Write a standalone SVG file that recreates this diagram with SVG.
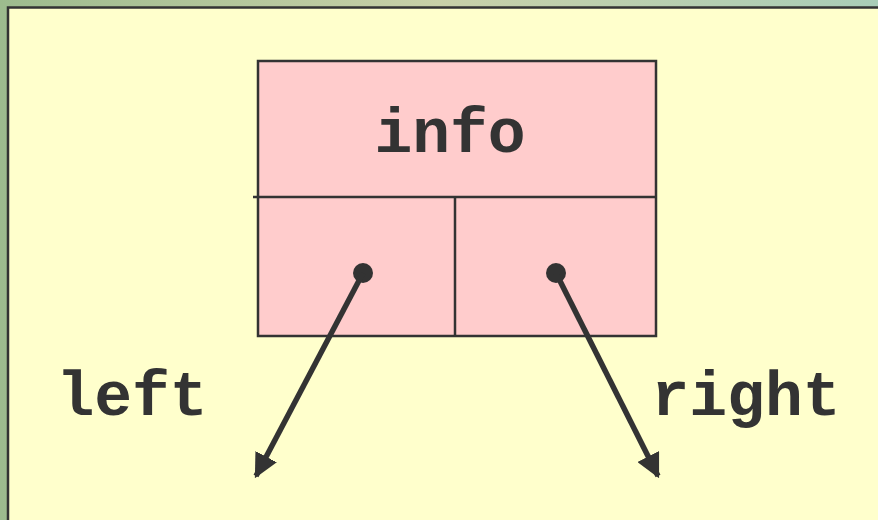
<svg xmlns="http://www.w3.org/2000/svg" width="878" height="520" viewBox="0 0 878 520">
<defs>
<linearGradient id="bg" x1="0" y1="0" x2="1" y2="0">
<stop offset="0" stop-color="#9dbb8e"/>
<stop offset="0.5" stop-color="#c8d0a8"/>
<stop offset="1" stop-color="#a9cdb8"/>
</linearGradient>
<marker id="ah" viewBox="0 0 10 10" refX="9" refY="5" markerWidth="4.4" markerHeight="4.4" orient="auto" markerUnits="strokeWidth">
<path d="M0,0 L10,5 L0,10 Z" fill="#333333"/>
</marker>
<style>
.t{font-family:"Liberation Mono","Courier New",monospace;font-weight:bold;font-size:63px;fill:#333333}
.ln{stroke:#333333;stroke-width:2.5}
.cn{stroke:#333333;stroke-width:5.5;fill:none}
</style>
</defs>
<rect x="0" y="0" width="878" height="520" fill="url(#bg)"/>
<rect x="8" y="7.5" width="880" height="520" fill="#FFFFCC" stroke="#333333" stroke-width="2.5"/>
<g id="node">
<rect x="258" y="61" width="398" height="275" fill="#FFCCCC" class="ln"/>
<line x1="253" y1="197" x2="656" y2="197" class="ln"/>
<line x1="455" y1="197" x2="455" y2="336" class="ln"/>
<text x="450" y="152" text-anchor="middle" class="t">info</text>
</g>
<g id="labels">
<text x="132" y="415" text-anchor="middle" class="t">left</text>
<text x="746" y="415" text-anchor="middle" class="t">right</text>
</g>
<g id="connectors">
<circle cx="363" cy="273" r="10" fill="#333333"/>
<circle cx="556" cy="273" r="10" fill="#333333"/>
<line x1="363" y1="273" x2="256" y2="476" class="cn" marker-end="url(#ah)"/>
<line x1="556" y1="273" x2="658" y2="476" class="cn" marker-end="url(#ah)"/>
</g>
</svg>
